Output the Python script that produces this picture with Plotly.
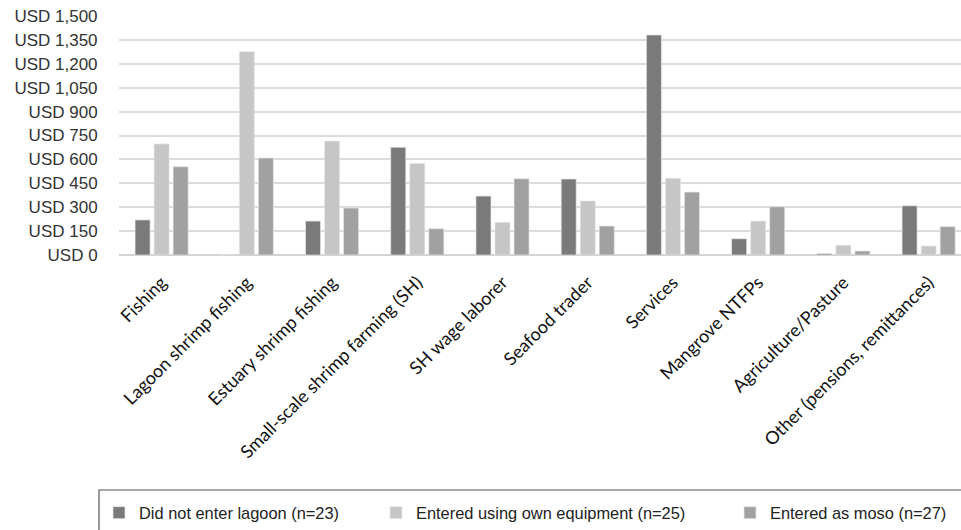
import plotly.graph_objects as go

categories = ["Fishing", "Lagoon shrimp fishing", "Estuary shrimp fishing",
              "Small-scale shrimp farming (SH)", "SH wage laborer", "Seafood trader",
              "Services", "Mangrove NTFPs", "Agriculture/Pasture",
              "Other (pensions, remittances)"]
did_not_enter = [220, 0, 213, 676, 370, 477, 1381, 102, 8, 309]
own_equipment = [697, 1276, 715, 575, 205, 339, 481, 213, 61, 56]
as_moso = [554, 609, 295, 165, 479, 182, 395, 303, 25, 178]

series_names = ["Did not enter lagoon (n=23)", "Entered using own equipment (n=25)",
                "Entered as moso (n=27)"]
series_values = [did_not_enter, own_equipment, as_moso]
colors = ["#7a7a7a", "#c5c6c5", "#a1a1a1"]
legend_ids = ["legend", "legend2", "legend3"]

W, H = 961, 530
L, T, B = 119, 16, 275
PW, PH = W - L, H - T - B
legend_x = [99, 376, 730]
legend_y = 513

fig = go.Figure()
for name, vals, col, lid in zip(series_names, series_values, colors, legend_ids):
    fig.add_trace(go.Bar(x=categories, y=vals, name=name, marker_color=col,
                         marker_line=dict(color="#e6e6e6", width=0.7),
                         legend=lid))

leg_common = dict(orientation="h", yanchor="middle", xanchor="left",
                  bgcolor="rgba(0,0,0,0)",
                  font=dict(family="Liberation Sans, Arial", size=16.4, color="#222"),
                  itemwidth=30, xref="container", yref="container")
layout_legs = {}
for lid, lx in zip(legend_ids, legend_x):
    layout_legs[lid] = dict(leg_common, x=lx / W, y=(H - legend_y) / H)

fig.update_layout(
    width=W, height=H,
    margin=dict(l=L, r=0, t=T, b=B),
    paper_bgcolor="white", plot_bgcolor="white",
    barmode="group", bargap=0.33, bargroupgap=0.21,
    showlegend=True,
    **layout_legs,
    yaxis=dict(range=[0, 1500], dtick=150, tickprefix="USD ", tickformat=",d",
               showgrid=True, gridcolor="#dcdcdc", gridwidth=1.5,
               zeroline=True, zerolinecolor="#d4d4d4", zerolinewidth=2,
               ticks="outside", ticklen=17, tickcolor="rgba(0,0,0,0)",
               tickfont=dict(family="Liberation Sans, Arial", size=17, color="#333"),
               automargin=False, fixedrange=True),
    xaxis=dict(type="category", range=[-0.5, 9.38], tickangle=-45,
               showline=False, ticks="outside", ticklen=9, tickcolor="rgba(0,0,0,0)",
               automargin=False, fixedrange=True,
               tickfont=dict(family="Lato, Open Sans", size=18, color="#111")),
    shapes=[dict(type="rect", xref="paper", yref="paper",
                 x0=(99 - L) / PW, x1=1.02,
                 y0=-(H + 10 - (T + PH)) / PH, y1=-(490 - (T + PH)) / PH,
                 line=dict(color="#555", width=1.2), fillcolor="rgba(0,0,0,0)")],
)

fig.write_html("out.html", config={"displayModeBar": False},
               post_script="document.body.style.margin='0px';")
